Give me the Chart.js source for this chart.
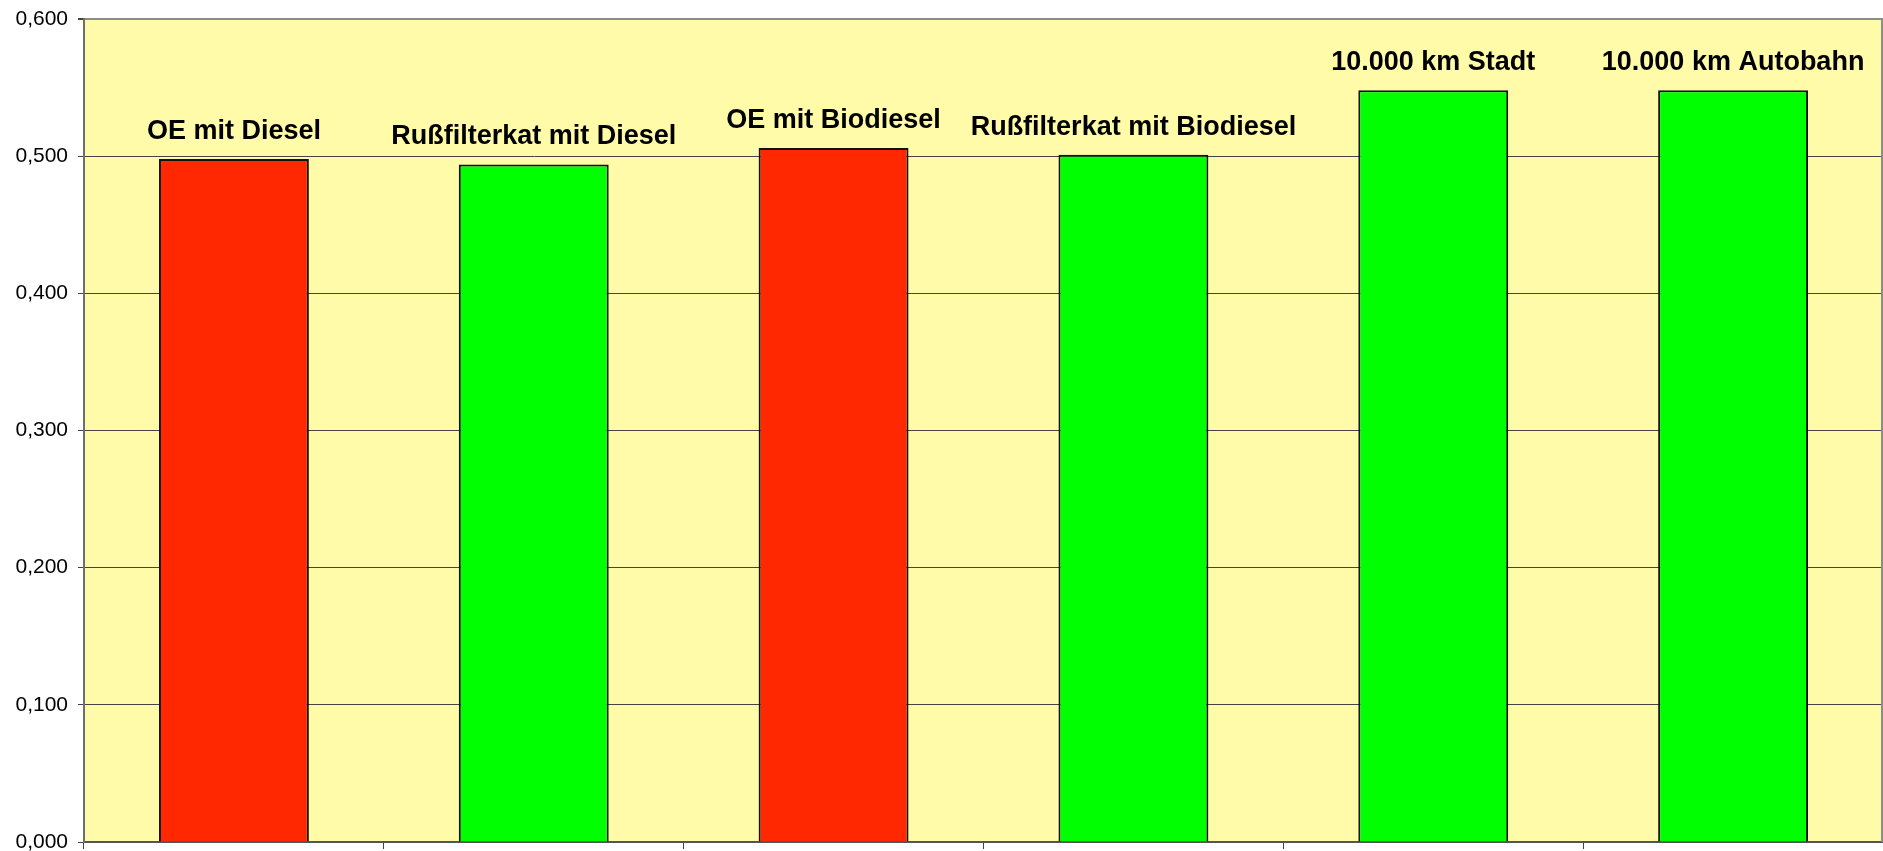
<!DOCTYPE html>
<html>
<head>
<meta charset="utf-8">
<script src="https://cdn.jsdelivr.net/npm/chart.js@4/dist/chart.umd.min.js"></script>
<style>
    html, body { margin: 0; padding: 0; background: #fff; }
    #wrap { width: 1883px; height: 851px; position: relative; }
</style>
</head>
<body>
<div id="wrap"><canvas id="myChart"></canvas></div>
<script>
// categories and values
const categories = [
    "OE mit Diesel",
    "Rußfilterkat mit Diesel",
    "OE mit Biodiesel",
    "Rußfilterkat mit Biodiesel",
    "10.000 km Stadt",
    "10.000 km Autobahn"
];
const values = [0.498, 0.494, 0.506, 0.501, 0.548, 0.548];
const yTicks = [0, 0.1, 0.2, 0.3, 0.4, 0.5, 0.6];

const RED = "rgb(255, 40, 0)";
const GREEN = "rgb(0, 255, 0)";
const barColors = [RED, GREEN, RED, GREEN, GREEN, GREEN];

// yellow plot area + frame on the right
const plotArea = {
    id: "plotArea",
    beforeDraw(chart) {
        const { ctx, chartArea: a } = chart;
        ctx.save();
        ctx.fillStyle = "rgb(255, 251, 168)";
        ctx.fillRect(a.left, a.top, a.right - a.left, a.bottom - a.top);
        ctx.restore();
    },
    afterDraw(chart) {
        const { ctx, chartArea: a } = chart;
        ctx.save();
        ctx.strokeStyle = "#8c8c8c";
        ctx.lineWidth = 2;
        ctx.beginPath();
        ctx.moveTo(a.right - 1, a.top);
        ctx.lineTo(a.right - 1, a.bottom);
        ctx.stroke();
        ctx.restore();
    }
};

// category names above each bar
const barNames = {
    id: "barNames",
    afterDatasetsDraw(chart) {
        const { ctx } = chart;
        const meta = chart.getDatasetMeta(0);
        ctx.save();
        ctx.font = "bold 27px 'Liberation Sans', Arial, sans-serif";
        ctx.fillStyle = "#000";
        ctx.textAlign = "center";
        ctx.textBaseline = "alphabetic";
        meta.data.forEach((bar, i) => {
            ctx.fillText(categories[i], bar.x, bar.y - 20);
        });
        ctx.restore();
    }
};

const ctx = document.getElementById("myChart");
new Chart(ctx, {
    type: "bar",
    data: {
        labels: categories,
        datasets: [
            {
                data: values,
                backgroundColor: barColors,
                borderColor: "#111",
                borderWidth: 2,
                categoryPercentage: 1,
                barPercentage: 0.5,
            },
        ],
    },
    options: {
        responsive: true,
        maintainAspectRatio: false,
        animation: false,
        layout: { padding: { top: 19, right: 0, left: 0, bottom: 0 } },
        plugins: {
            legend: { display: false },
            tooltip: { enabled: false },
        },
        scales: {
            x: {
                ticks: { display: false },
                grid: {
                    drawOnChartArea: false,
                    drawTicks: true,
                    tickLength: 7,
                    color: "#444",
                    lineWidth: 1,
                },
                border: { color: "#555", width: 2 },
                afterFit(scale) {
                    scale.height = 9;
                    scale.paddingLeft = 0;
                    scale.paddingRight = 0;
                },
            },
            y: {
                min: 0,
                max: 0.6,
                afterBuildTicks(scale) {
                    scale.ticks = yTicks.map((v) => ({ value: v }));
                },
                ticks: {
                    padding: 10,
                    color: "#000",
                    font: { family: "'Liberation Sans', Arial, sans-serif", size: 21 },
                    callback: (v) => v.toFixed(3).replace(".", ","),
                },
                grid: {
                    color: (c) => (c.tick && c.tick.value === 0.6 ? "#8c8c8c" : "#444"),
                    lineWidth: (c) => (c.tick && c.tick.value === 0.6 ? 2 : 1),
                    tickLength: 6,
                    tickColor: "#444",
                },
                border: { color: "#6e6e6e", width: 2 },
                afterFit(scale) {
                    scale.width = 84;
                    scale.paddingTop = 0;
                    scale.paddingBottom = 0;
                },
            },
        },
    },
    plugins: [plotArea, barNames],
});
</script>
</body>
</html>
